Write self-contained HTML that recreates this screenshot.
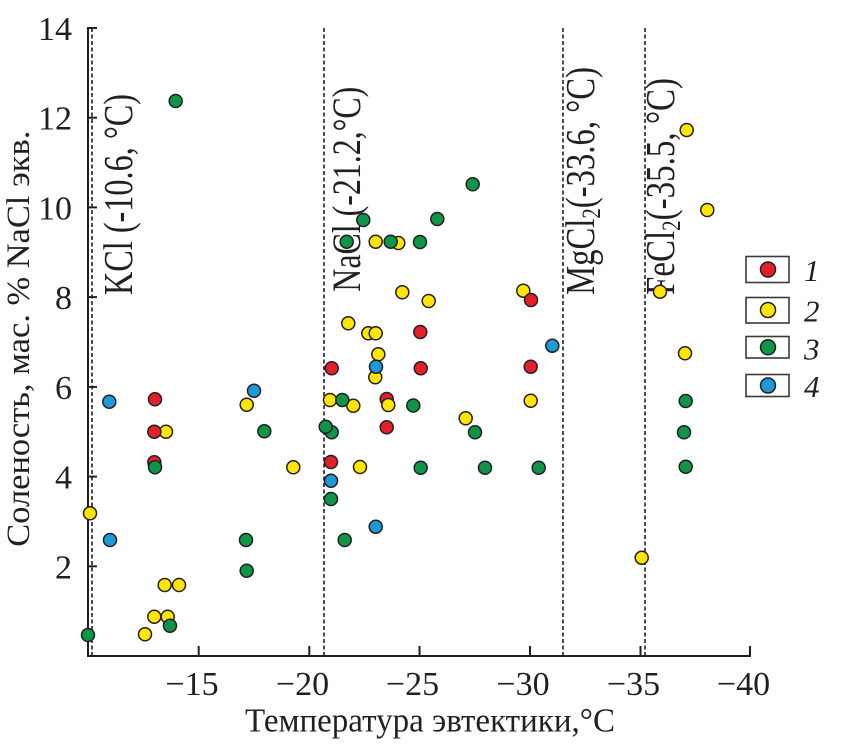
<!DOCTYPE html>
<html>
<head>
<meta charset="utf-8">
<style>
html,body{margin:0;padding:0;background:#fff;}
svg{display:block;}
text{font-family:"Liberation Serif","DejaVu Serif",serif;fill:#231f20;}
</style>
</head>
<body>
<svg width="841" height="745" viewBox="0 0 841 745" xmlns="http://www.w3.org/2000/svg">
<rect width="841" height="745" fill="#fff"/>

<!-- dashed reference lines -->
<g stroke="#231f20" stroke-width="1.6" stroke-dasharray="4 2.5" fill="none">
  <line x1="92" y1="28" x2="92" y2="655"/>
  <line x1="324" y1="28" x2="324" y2="655"/>
  <line x1="563" y1="28" x2="563" y2="655"/>
  <line x1="645" y1="28" x2="645" y2="655"/>
</g>

<!-- axes -->
<g stroke="#231f20" stroke-width="2" fill="none">
  <line x1="88" y1="27" x2="88" y2="657"/>
  <line x1="87" y1="656" x2="751" y2="656"/>
  <line x1="88" y1="28" x2="97" y2="28"/>
  <line x1="88" y1="117.7" x2="97" y2="117.7"/>
  <line x1="88" y1="207.4" x2="97" y2="207.4"/>
  <line x1="88" y1="297.1" x2="97" y2="297.1"/>
  <line x1="88" y1="386.9" x2="97" y2="386.9"/>
  <line x1="88" y1="476.6" x2="97" y2="476.6"/>
  <line x1="88" y1="566.3" x2="97" y2="566.3"/>
  <line x1="198.7" y1="646" x2="198.7" y2="656"/>
  <line x1="309.3" y1="646" x2="309.3" y2="656"/>
  <line x1="419.5" y1="646" x2="419.5" y2="656"/>
  <line x1="530" y1="646" x2="530" y2="656"/>
  <line x1="640.5" y1="646" x2="640.5" y2="656"/>
  <line x1="750" y1="646" x2="750" y2="656"/>
</g>

<!-- y tick labels -->
<g font-size="34" text-anchor="end">
  <text x="72" y="40">14</text>
  <text x="72" y="129.7">12</text>
  <text x="72" y="219.4">10</text>
  <text x="72" y="309.1">8</text>
  <text x="72" y="398.9">6</text>
  <text x="72" y="488.6">4</text>
  <text x="72" y="578.3">2</text>
</g>

<!-- x tick labels -->
<g font-size="34" text-anchor="middle">
  <text x="192" y="695">−15</text>
  <text x="302.5" y="695">−20</text>
  <text x="412.5" y="695">−25</text>
  <text x="523" y="695">−30</text>
  <text x="633.5" y="695">−35</text>
  <text x="743.5" y="695">−40</text>
</g>

<!-- axis titles -->
<text x="245" y="731.5" font-size="34" textLength="370" lengthAdjust="spacingAndGlyphs">Температура эвтектики,°C</text>
<text transform="translate(29,546.7) rotate(-90)" font-size="33" textLength="416" lengthAdjust="spacingAndGlyphs">Соленость, мас. % NaCl экв.</text>

<!-- in-plot rotated labels -->
<text transform="translate(132,295) rotate(-90)" font-size="41" textLength="201" lengthAdjust="spacingAndGlyphs">KCl (-10.6, °C)</text>
<text transform="translate(360,291.7) rotate(-90)" font-size="40" textLength="205" lengthAdjust="spacingAndGlyphs">NaCl (-21.2,°C)</text>
<text transform="translate(594,295) rotate(-90)" font-size="41" textLength="228" lengthAdjust="spacingAndGlyphs">MgCl<tspan dy="6" font-size="26">2</tspan><tspan dy="-6">(-33.6, °C)</tspan></text>
<text transform="translate(674,295) rotate(-90)" font-size="41" textLength="217" lengthAdjust="spacingAndGlyphs">FeCl<tspan dy="6" font-size="26">2</tspan><tspan dy="-6">(-35.5, °C)</tspan></text>

<!-- points -->
<g stroke="#231f20" stroke-width="1.5">
  <g fill="#ffe500">
    <circle cx="90" cy="513.3" r="6.5"/>
    <circle cx="166" cy="431.7" r="6.5"/>
    <circle cx="164.7" cy="585" r="6.5"/>
    <circle cx="179" cy="585" r="6.5"/>
    <circle cx="154.3" cy="616.7" r="6.5"/>
    <circle cx="167.7" cy="616.7" r="6.5"/>
    <circle cx="145" cy="634.3" r="6.5"/>
    <circle cx="246.7" cy="404.7" r="6.5"/>
    <circle cx="293.3" cy="467.3" r="6.5"/>
    <circle cx="375.7" cy="241.7" r="6.5"/>
    <circle cx="398.3" cy="243" r="6.5"/>
    <circle cx="402.3" cy="292.3" r="6.5"/>
    <circle cx="428.7" cy="301" r="6.5"/>
    <circle cx="348.3" cy="323.3" r="6.5"/>
    <circle cx="368.3" cy="333.3" r="6.5"/>
    <circle cx="375.7" cy="333.3" r="6.5"/>
    <circle cx="378.3" cy="354.3" r="6.5"/>
    <circle cx="375.3" cy="377.3" r="6.5"/>
    <circle cx="330" cy="400" r="6.5"/>
    <circle cx="353.3" cy="405.7" r="6.5"/>
    <circle cx="360" cy="467" r="6.5"/>
    <circle cx="465.7" cy="418.3" r="6.5"/>
    <circle cx="523.3" cy="290.7" r="6.5"/>
    <circle cx="530.7" cy="400.7" r="6.5"/>
    <circle cx="641.7" cy="557.7" r="6.5"/>
    <circle cx="660" cy="291.7" r="6.5"/>
    <circle cx="685" cy="353.3" r="6.5"/>
    <circle cx="686.7" cy="130" r="6.5"/>
    <circle cx="707.3" cy="210" r="6.5"/>
  </g>
  <g fill="#e3202a">
    <circle cx="155" cy="399.3" r="6.5"/>
    <circle cx="154.3" cy="431.7" r="6.5"/>
    <circle cx="154.3" cy="462.3" r="6.5"/>
    <circle cx="331.7" cy="368.3" r="6.5"/>
    <circle cx="331" cy="462" r="6.5"/>
    <circle cx="386.7" cy="427.3" r="6.5"/>
    <circle cx="386.7" cy="399" r="6.5"/>
    <circle cx="420.3" cy="332" r="6.5"/>
    <circle cx="420.7" cy="368.3" r="6.5"/>
    <circle cx="531" cy="300" r="6.5"/>
    <circle cx="530.7" cy="366.7" r="6.5"/>
  </g>
  <circle cx="388.3" cy="405" r="6.5" fill="#ffe500"/>
  <g fill="#0e9547">
    <circle cx="175.7" cy="101" r="6.5"/>
    <circle cx="155" cy="467.3" r="6.5"/>
    <circle cx="170" cy="625.7" r="6.5"/>
    <circle cx="88" cy="635" r="6.5"/>
    <circle cx="264.3" cy="431.3" r="6.5"/>
    <circle cx="246" cy="540" r="6.5"/>
    <circle cx="246.7" cy="570.7" r="6.5"/>
    <circle cx="363.3" cy="220" r="6.5"/>
    <circle cx="437.3" cy="219" r="6.5"/>
    <circle cx="472.7" cy="184.3" r="6.5"/>
    <circle cx="346.7" cy="241.7" r="6.5"/>
    <circle cx="390.7" cy="241.7" r="6.5"/>
    <circle cx="420" cy="242" r="6.5"/>
    <circle cx="342.3" cy="400" r="6.5"/>
    <circle cx="413.3" cy="405.5" r="6.5"/>
    <circle cx="331.7" cy="432.3" r="6.5"/>
    <circle cx="325.7" cy="426.7" r="6.5"/>
    <circle cx="420.7" cy="467.7" r="6.5"/>
    <circle cx="331" cy="499" r="6.5"/>
    <circle cx="344.7" cy="540" r="6.5"/>
    <circle cx="475" cy="432.3" r="6.5"/>
    <circle cx="485" cy="467.7" r="6.5"/>
    <circle cx="538.7" cy="467.7" r="6.5"/>
    <circle cx="685.7" cy="401" r="6.5"/>
    <circle cx="684" cy="432.3" r="6.5"/>
    <circle cx="685.7" cy="466.7" r="6.5"/>
  </g>
  <g fill="#1c9ad8">
    <circle cx="109.3" cy="401.7" r="6.5"/>
    <circle cx="110" cy="540" r="6.5"/>
    <circle cx="254" cy="390.7" r="6.5"/>
    <circle cx="376" cy="366.7" r="6.5"/>
    <circle cx="331" cy="480.7" r="6.5"/>
    <circle cx="375.7" cy="526.7" r="6.5"/>
    <circle cx="552.3" cy="345.7" r="6.5"/>
  </g>
</g>

<!-- legend -->
<g stroke="#3a3a3a" stroke-width="1.6" fill="#fff">
  <rect x="746" y="256.5" width="43" height="26"/>
  <rect x="746" y="297.5" width="43" height="25.5"/>
  <rect x="746" y="336.5" width="43" height="21.5"/>
  <rect x="746" y="374.5" width="43" height="22"/>
</g>
<g stroke="#231f20" stroke-width="1.5">
  <circle cx="768" cy="269.5" r="7.5" fill="#e3202a"/>
  <circle cx="768" cy="310" r="7.5" fill="#ffe500"/>
  <circle cx="768" cy="347.3" r="7.5" fill="#0e9547"/>
  <circle cx="768" cy="385.5" r="7.5" fill="#1c9ad8"/>
</g>
<g font-size="31" font-style="italic">
  <text x="804" y="281">1</text>
  <text x="804" y="321.5">2</text>
  <text x="804" y="359.5">3</text>
  <text x="804" y="397">4</text>
</g>
</svg>
</body>
</html>
